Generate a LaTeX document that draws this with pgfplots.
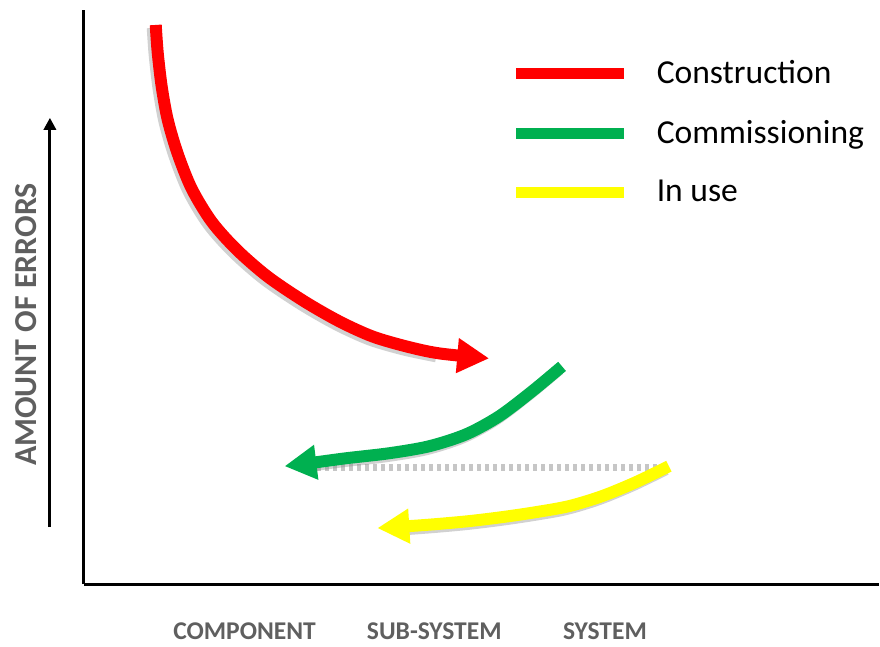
\documentclass[border=0pt]{standalone}
\usepackage{fontspec}
\setmainfont{Carlito}
\usepackage{pgfplots}
\pgfplotsset{compat=1.18}
\usetikzlibrary{arrows.meta}
\definecolor{cRed}{HTML}{FF0000}
\definecolor{cGreen}{HTML}{00B050}
\definecolor{cYellow}{HTML}{FFFF00}
\definecolor{labgray}{HTML}{5F5F5F}
\pgfplotstableread{
x y
156 619
158 591
162 557
168 524
178 490
192 455
212 422
237 394
268 367
305 342
340 322
373 307
407 297
440 290
490 285
}\construction
\pgfplotstableread{
x y
563 277
533 252
500 227
467 209
430 197
390 190
347 185
317 181
285 177
}\commissioning
\pgfplotstableread{
x y
670 177
637 161
603 147
570 137
537 131
503 126
470 122
437 119
410 117
378 115
}\inuse
\begin{document}
\begin{tikzpicture}
\begin{axis}[
  x=0.5pt, y=0.5pt,
  xmin=84, xmax=880, ymin=59, ymax=634,
  axis x line=bottom, axis y line=left,
  axis line style={-, line width=1.5pt, black},
  ytick=\empty,
  xtick={245,435,606},
  xticklabels={COMPONENT,SUB-SYSTEM,SYSTEM},
  major tick length=0pt,
  xticklabel style={font=\bfseries\fontsize{12.8}{14}\selectfont, text=labgray, yshift=-16pt},
  clip=false,
  legend style={at={(axis cs:505,592)}, anchor=north west, draw=none, fill=none,
    font=\fontsize{16.8}{19}\selectfont, row sep=13pt},
  legend cell align=left,
  legend image code/.code={%
    \draw[#1,-,line width=5.5pt] (0pt,0pt) -- (54pt,0pt);
    \path[draw=none,-] (0pt,0pt) -- (68.5pt,0pt);},
]
% bounding box of the whole picture
\path (axis cs:0,0) rectangle (axis cs:880,644);
% soft shadows
\addplot[forget plot, smooth, black, opacity=0.18, line width=6pt, xshift=-1.5pt, yshift=-1.5pt]
  table[skip coords between index={14}{15}] {\construction};
\addplot[forget plot, smooth, black, opacity=0.18, line width=6pt, xshift=-1.5pt, yshift=-1.5pt]
  table[skip coords between index={8}{9}] {\commissioning};
\addplot[forget plot, smooth, black, opacity=0.18, line width=6pt, xshift=-1.5pt, yshift=-1.5pt]
  table[skip coords between index={9}{10}] {\inuse};
% grey dotted trace
\addplot[forget plot, gray, opacity=0.45, line width=3.5pt, dash pattern=on 2pt off 2pt]
  coordinates {(318,176)(662,176)};
% series
\addplot[smooth, cRed, line width=6pt, -{Triangle[length=16pt,width=16.5pt]}] table {\construction};
\addlegendentry{Construction}
\addplot[smooth, cGreen, line width=6pt, -{Triangle[length=16pt,width=16.5pt]}] table {\commissioning};
\addlegendentry{Commissioning}
\addplot[smooth, cYellow, line width=6pt, -{Triangle[length=16pt,width=16.5pt]}] table {\inuse};
\addlegendentry{In use}
% y direction arrow and label
\draw[line width=1.5pt, -{Triangle[length=6pt,width=6pt]}] (axis cs:50,116) -- (axis cs:50,526);
\node[rotate=90, text=labgray, font=\bfseries\fontsize{16}{19}\selectfont] at (axis cs:26,319) {AMOUNT OF ERRORS};
\end{axis}
\end{tikzpicture}
\end{document}
